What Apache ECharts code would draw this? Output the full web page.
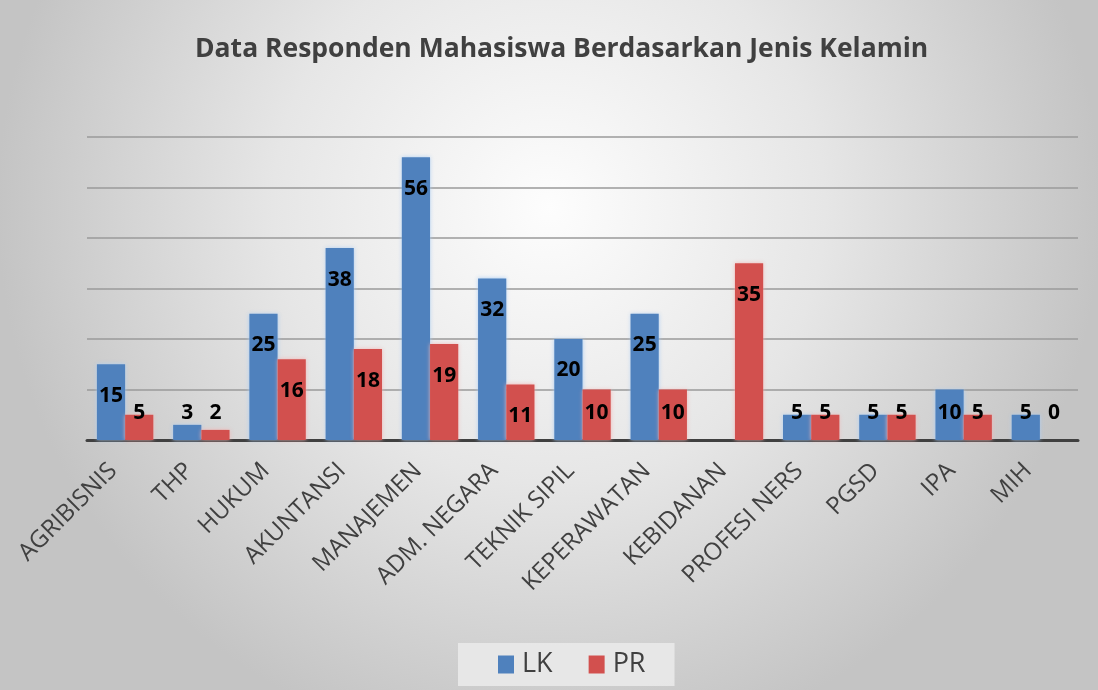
<!DOCTYPE html>
<html><head><meta charset="utf-8">
<script src="https://cdn.jsdelivr.net/npm/echarts@6/dist/echarts.min.js"></script>
<style>html,body{margin:0;padding:0;background:#fff}#c{width:1098px;height:690px}</style>
</head><body><div id="c"></div>
<script>
const categories = ['AGRIBISNIS','THP','HUKUM','AKUNTANSI','MANAJEMEN','ADM. NEGARA','TEKNIK SIPIL','KEPERAWATAN','KEBIDANAN','PROFESI NERS','PGSD','IPA','MIH'];
const lkValues = [15,3,25,38,56,32,20,25,null,5,5,10,5];
const prValues = [5,2,16,18,19,11,10,10,35,5,5,5,0];
const yTicks = [0,10,20,30,40,50,60];

function items(vals){
  return vals.map(v => {
    if (v === null) return '-';
    const small = v < 11;
    return {value: v, label: small ? {position:'insideBottom', distance:16} : {position:'insideTop', distance:21}};
  });
}
const chart = echarts.init(document.getElementById('c'));
const lbl = {show:true, color:'#000', fontSize:21, fontWeight:'bold', fontFamily:'Open Sans'};
chart.setOption({
  backgroundColor: {type:'radial', x:0.5, y:0.3, r:0.8, colorStops:[{offset:0,color:'#fdfdfd'},{offset:0.5,color:'#e6e6e6'},{offset:1,color:'#c4c4c4'}]},
  animation:false,
  title:{text:'Data Responden Mahasiswa Berdasarkan Jenis Kelamin', left:190, top:31,
    textStyle:{fontFamily:'Open Sans', fontSize:26.5, fontWeight:'bold', color:'#404040'}},
  grid:{left:87, right:20, top:137, bottom:250},
  legend:{bottom:4, left:458, itemWidth:16, itemHeight:18, itemGap:36, padding:[8,29,8,40],
    backgroundColor:'rgba(235,235,235,0.85)',
    textStyle:{fontFamily:'Open Sans', fontSize:27, color:'#404040', padding:[0,0,0,3]}, icon:'rect'},
  xAxis:{type:'category', data:categories,
    axisLine:{lineStyle:{color:'#404040', width:3}}, axisTick:{show:false},
    axisLabel:{rotate:45, interval:0, margin:15, padding:[0,17,0,0], fontFamily:'Open Sans', fontSize:24, color:'#404040'}},
  yAxis:{type:'value', min:yTicks[0], max:yTicks[yTicks.length-1], interval:10,
    axisLabel:{show:false}, axisLine:{show:false}, axisTick:{show:false},
    splitLine:{lineStyle:{color:'#9a9a9a', width:1.5}}},
  series:[
    {name:'LK', type:'bar', data:items(lkValues), barGap:'0%', barCategoryGap:'26%',
      itemStyle:{color:'#4f81bd', shadowColor:'rgba(170,205,245,0.9)', shadowBlur:4}, label:lbl},
    {name:'PR', type:'bar', data:items(prValues),
      itemStyle:{color:'#d2504e', shadowColor:'rgba(245,180,180,0.9)', shadowBlur:4}, label:lbl}
  ]
});
</script></body></html>
